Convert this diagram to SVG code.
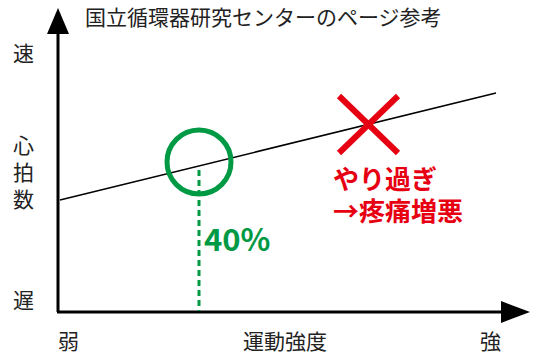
<svg xmlns="http://www.w3.org/2000/svg" width="534" height="355" viewBox="0 0 534 355">
<style>
.t{font-family:"Noto Sans CJK JP","Noto Sans",sans-serif;fill:#222;font-size:21px}
.r{font-family:"Noto Sans CJK JP","Noto Sans",sans-serif;fill:#e60012;font-size:26px;font-weight:bold}
.g{font-family:"Noto Sans CJK JP","Noto Sans",sans-serif;fill:#009944;font-size:31px;font-weight:bold}
</style>
<rect width="534" height="355" fill="#fff"/>
<g id="connectors">
<line x1="58" y1="312" x2="58" y2="30" stroke="#000" stroke-width="3"/>
<polygon points="58,8 69,34 47,34" fill="#000"/>
<line x1="57" y1="312" x2="505" y2="312" stroke="#000" stroke-width="3"/>
<polygon points="530,312 501,301 501,323" fill="#000"/>
<line x1="60" y1="200" x2="496" y2="93" stroke="#000" stroke-width="1.5"/>
<line x1="199" y1="170" x2="199" y2="311" stroke="#009944" stroke-width="3" stroke-dasharray="6,4"/>
</g>
<g id="title"><text class="t" x="85" y="25" font-size="18.8">国立循環器研究センターのページ参考</text></g>
<g id="yaxis-labels">
<text class="t" x="13" y="61">速</text>
<text class="t" x="23.5" y="135" writing-mode="vertical-rl" letter-spacing="6">心拍数</text>
<text class="t" x="13" y="308">遅</text>
</g>
<g id="xaxis-labels">
<text class="t" x="58" y="349">弱</text>
<text class="t" x="243" y="349">運動強度</text>
<text class="t" x="480" y="349">強</text>
</g>
<g id="circle-40"><circle cx="199" cy="162" r="32" fill="none" stroke="#009944" stroke-width="5"/>
<text class="g" x="204" y="251">40%</text></g>
<g id="cross"><line x1="339" y1="96" x2="398" y2="153" stroke="#e60012" stroke-width="6"/>
<line x1="398" y1="96" x2="339" y2="153" stroke="#e60012" stroke-width="6"/>
<text class="r" x="333" y="189">やり過ぎ<tspan x="333" dy="32">→疼痛増悪</tspan></text></g>
</svg>
